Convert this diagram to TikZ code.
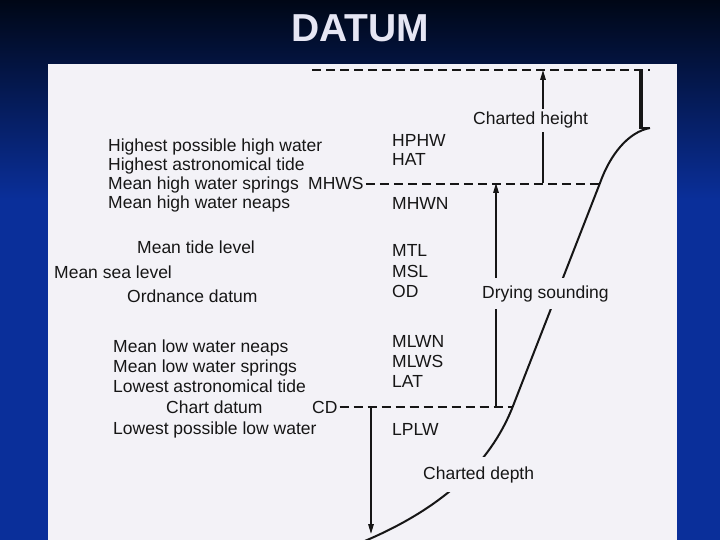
\documentclass[tikz,border=0pt]{standalone}
\usepackage{fontspec}
\setmainfont{Liberation Sans}
\usetikzlibrary{arrows.meta}
\definecolor{bgblue}{HTML}{0A2F9A}
\definecolor{bgtop}{HTML}{000716}
\definecolor{paper}{HTML}{F3F2F7}
\definecolor{ink}{HTML}{161616}
\definecolor{titlecol}{HTML}{E6E6F4}
\begin{document}
\begin{tikzpicture}[x=1pt,y=-1pt,
  lbl/.style={anchor=base west, font=\fontsize{17.5}{20}\selectfont, text=ink, inner sep=0pt},
  masklbl/.style={lbl, fill=paper, inner xsep=2pt, inner ysep=3pt},
  lev/.style={draw=ink, line width=2.2pt, dash pattern=on 9pt off 5pt},
  dim/.style={draw=ink, line width=1.5pt, -{Triangle[length=10pt,width=5.5pt]}},
  cliff/.style={draw=ink, line width=2pt}]
\useasboundingbox (0,0) rectangle (720,540);
% background
\fill[bgblue] (0,0) rectangle (720,540);
\shade[top color=bgtop, bottom color=bgblue] (0,0) rectangle (720,200);
\node[font=\bfseries\fontsize{39}{40}\selectfont, text=titlecol, inner sep=0pt, anchor=base] (title) at (360,42) {DATUM};
\fill[paper] (48,64) rectangle (677,540);

\begin{scope}
\clip (48,64) rectangle (677,540);
% coordinates
\coordinate (topL) at (312,70);
\coordinate (topR) at (650,70);
\coordinate (barTop) at (641,70);
\coordinate (barFoot) at (641,128);
\coordinate (footR) at (650,128);
\coordinate (mhwsCliff) at (600,183);
\coordinate (cdCliff) at (513,406);
\coordinate (seaBed) at (360,543);
\coordinate (chTop) at (543,70);
\coordinate (chBase) at (543,183);
\coordinate (dsTop) at (496,183);
\coordinate (dsBase) at (496,406);
\coordinate (cdTop) at (371,406);
\coordinate (cdBed) at (371,534);

% level lines
\draw[lev] (topL) -- (topR);
\node[lbl] (mhws) at (308,190) {MHWS};
\draw[lev] (mhws.east) ++(2pt,0) -- (mhws.east -| mhwsCliff);
\node[lbl] (cd) at (312,413) {CD};
\draw[lev] (cd.east) ++(2pt,0) -- (cd.east -| cdCliff);

% cliff
\draw[draw=ink, line width=3.2pt] (barTop) -- (barFoot);
\draw[draw=ink, line width=2pt] ([xshift=-1.6pt]barFoot) -- (footR);
\draw[cliff] (footR) .. controls (628,132) and (610,155) .. (mhwsCliff)
  -- (cdCliff) .. controls (490,465) and (440,510) .. (seaBed);

% dimension arrows
\draw[dim] (chBase) -- (chTop);
\draw[dim] (dsBase) -- (dsTop);
\draw[dim] (cdTop) -- (cdBed);
\end{scope}

% masked labels
\node[masklbl] (chh) at (471,125) {Charted height};
\node[masklbl, inner ysep=7pt] (dry) at (480,298) {Drying sounding};
\node[masklbl, inner ysep=9pt] (cdep) at (421,479) {Charted depth};

% left labels
\node[lbl] (hphw) at (108,152) {Highest possible high water};
\node[lbl] (hat) at (108,171) {Highest astronomical tide};
\node[lbl] (mhwsT) at (108,190) {Mean high water springs};
\node[lbl] (mhwn) at (108,209) {Mean high water neaps};
\node[lbl] (mtl) at (137,254) {Mean tide level};
\node[lbl] (msl) at (54,278) {Mean sea level};
\node[lbl] (od) at (127,302) {Ordnance datum};
\node[lbl] (mlwn) at (113,352) {Mean low water neaps};
\node[lbl] (mlws) at (113,372) {Mean low water springs};
\node[lbl] (lat) at (113,392) {Lowest astronomical tide};
\node[lbl] (cdT) at (166,413) {Chart datum};
\node[lbl] (lplw) at (113,434) {Lowest possible low water};

% abbreviations
\node[lbl] (aHPHW) at (392,147) {HPHW};
\node[lbl] (aHAT) at (392,166) {HAT};
\node[lbl] (aMHWN) at (392,210) {MHWN};
\node[lbl] (aMTL) at (392,256) {MTL};
\node[lbl] (aMSL) at (392,277) {MSL};
\node[lbl] (aOD) at (392,297) {OD};
\node[lbl] (aMLWN) at (392,347) {MLWN};
\node[lbl] (aMLWS) at (392,367) {MLWS};
\node[lbl] (aLAT) at (392,387) {LAT};
\node[lbl] (aLPLW) at (392,435) {LPLW};
\end{tikzpicture}
\end{document}
